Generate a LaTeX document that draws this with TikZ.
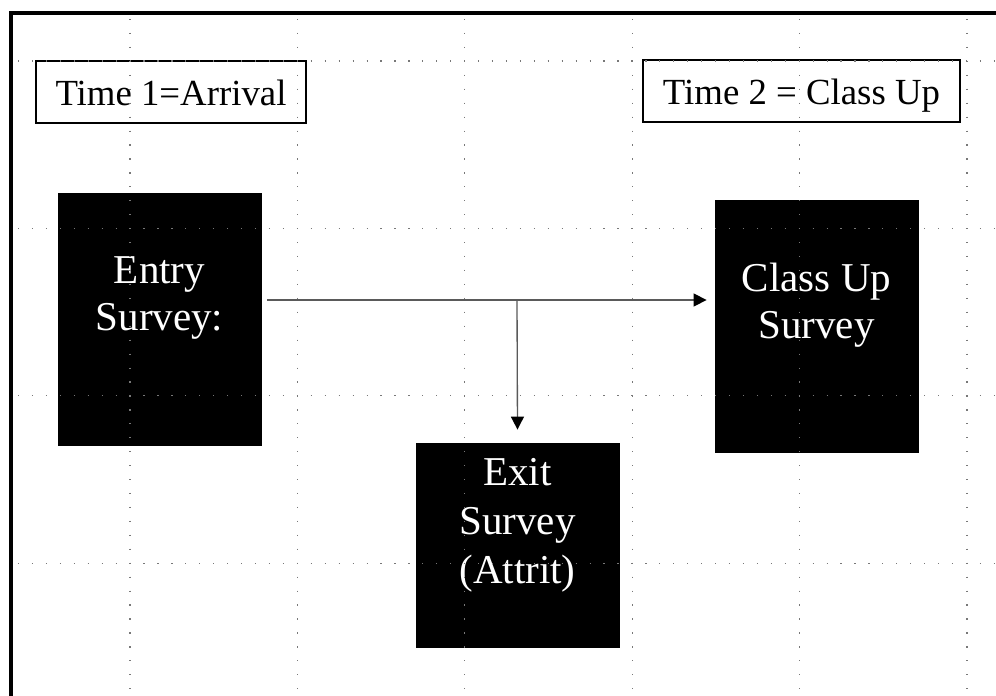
\documentclass[tikz,border=0pt]{standalone}
\usepackage{fontspec}
\setmainfont{Liberation Serif}
\usetikzlibrary{arrows.meta,positioning,calc}
\definecolor{srvInk}{RGB}{0,0,0}
\definecolor{srvGrid}{RGB}{120,120,120}
\definecolor{srvFlow}{RGB}{90,90,90}
\tikzset{
  stime/.style={draw=srvInk, line width=1.5pt, fill=white, inner sep=0pt,
    minimum height=46.5pt, font=\fontsize{27.6}{31}\selectfont, text=srvInk,
    text height=19.5pt, text depth=0pt},
  sblock/.style={draw=srvInk, fill=srvInk, line width=.6pt, inner sep=0pt,
    minimum width=152.25pt},
  sblocktext/.style={font=\fontsize{30.75}{35.25}\selectfont, text=white,
    align=center, inner sep=0pt},
  sflow/.style={-{Triangle[length=9.75pt, width=9.75pt, color=srvInk]},
    line width=1pt, draw=srvFlow}
}
\begin{document}
\begin{tikzpicture}[x=.75pt, y=-.75pt,
  sframe/.style={draw=srvInk, line width=3pt, line join=miter},
  sgrid/.style={draw=srvGrid, line width=.9pt, dash pattern=on .9pt off 9.555pt}
]
\path[use as bounding box, fill=white] (0,0) rectangle (996,696);

% slide frame
\draw[sframe] (11,700) -- (11,13) -- (1000,13);

\node[stime, minimum width=202.5pt] (time1) at (171,92) {Time 1=Arrival};
\node[stime, minimum width=237.75pt] (time2) at (801.5,91) {Time 2 = Class Up};

\node[sblock, minimum height=189pt] (entry) at (159.5,319) {};
\node[sblock, minimum height=189pt] (classup) at (816.5,326) {};
\node[sblock, minimum height=153pt] (exit) at (517.5,545) {};

% text sits on the baseline of its last line
\node[sblocktext, anchor=base] (entrytxt) at ([shift={(0,138)}]entry.north)
  {Entry\\Survey:};
\node[sblocktext, anchor=base] (classuptxt) at ([shift={(0,139)}]classup.north)
  {Class Up\\Survey};
\node[sblocktext, anchor=base, font=\fontsize{30.75}{36.75}\selectfont]
  (exittxt) at ([shift={(0,141)}]exit.north) {Exit\\Survey\\(Attrit)};

\coordinate (fork) at (517,300);
\draw[sflow] ([shift={(6,-19)}]entry.east) -- ([shift={(-8,-26)}]classup.west);
\draw[sflow] (fork) -- ([shift={(0,-13)}]exit.north);

% dotted guides
\foreach \gx in {0,...,5}
  \draw[sgrid] ({130+167.4*\gx},19) -- ({130+167.4*\gx},700);
\foreach \gy in {0,...,3}
  \draw[sgrid] (18,{61+167.4*\gy}) -- (1000,{61+167.4*\gy});
\end{tikzpicture}
\end{document}
